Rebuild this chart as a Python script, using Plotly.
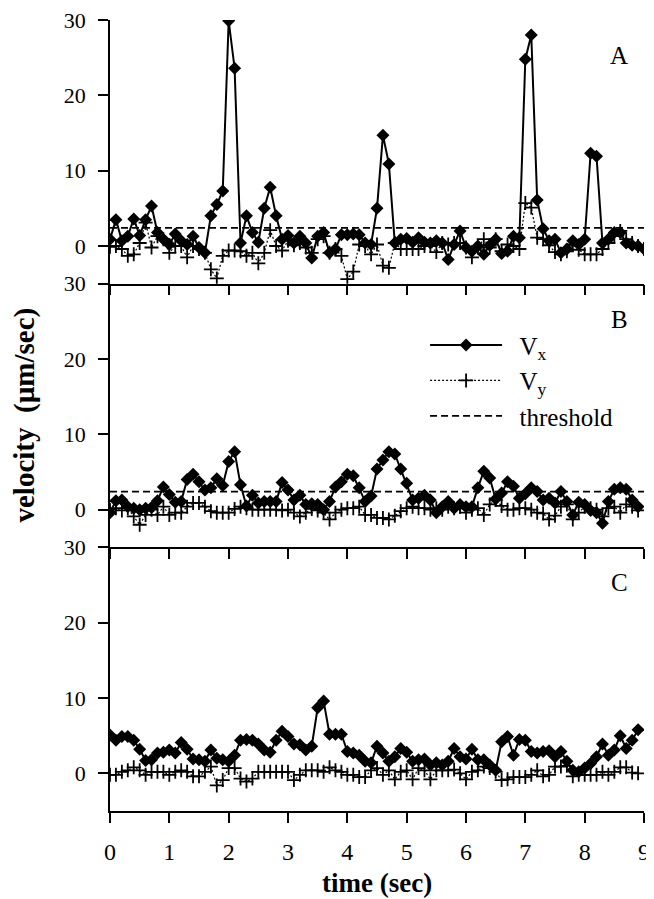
import plotly.graph_objects as go
from plotly.subplots import make_subplots

TIME = [0.0, 0.1, 0.2, 0.3, 0.4, 0.5, 0.6, 0.7, 0.8, 0.9,
        1.0, 1.1, 1.2, 1.3, 1.4, 1.5, 1.6, 1.7, 1.8, 1.9,
        2.0, 2.1, 2.2, 2.3, 2.4, 2.5, 2.6, 2.7, 2.8, 2.9,
        3.0, 3.1, 3.2, 3.3, 3.4, 3.5, 3.6, 3.7, 3.8, 3.9,
        4.0, 4.1, 4.2, 4.3, 4.4, 4.5, 4.6, 4.7, 4.8, 4.9,
        5.0, 5.1, 5.2, 5.3, 5.4, 5.5, 5.6, 5.7, 5.8, 5.9,
        6.0, 6.1, 6.2, 6.3, 6.4, 6.5, 6.6, 6.7, 6.8, 6.9,
        7.0, 7.1, 7.2, 7.3, 7.4, 7.5, 7.6, 7.7, 7.8, 7.9,
        8.0, 8.1, 8.2, 8.3, 8.4, 8.5, 8.6, 8.7, 8.8, 8.9,
        9.0]

A_VX = [0.9, 3.5, 0.7, 1.3, 3.6, 1.4, 3.5, 5.3, 1.8, 0.9,
        0.2, 1.6, 0.7, 0.2, 1.3, -0.2, -0.9, 4.0, 5.5, 7.3,
        29.9, 23.6, 0.4, 4.0, 1.8, 0.5, 5.0, 7.8, 4.0, 0.9,
        1.4, 0.4, 1.3, 0.4, -1.6, 1.3, 1.8, -0.9, -0.4, 1.5,
        1.5, 1.6, 1.5, 0.4, 0.2, 5.0, 14.7, 10.9, 0.4, 0.9,
        1.0, 0.5, 1.1, 0.5, 0.4, 0.7, 0.4, -1.8, 0.2, 2.0,
        -0.2, -0.7, 0.0, -1.1, 0.1, 0.9, -1.0, -0.7, 1.3, 1.1,
        24.8, 28.0, 6.1, 2.3, 0.7, 0.9, -0.9, -0.4, 0.7, 0.2,
        0.9, 12.3, 11.9, 0.4, 0.9, 1.8, 1.8, 0.4, 0.1, 0.0,
        -0.4]
A_VY = [-0.1, 0.0, -0.4, -1.3, -1.1, 0.4, 3.1, -0.2, 1.3, 0.9,
        -0.9, 0.0, 0.0, -1.5, 0.0, -0.4, -0.9, -3.1, -4.3, -1.3,
        -0.6, -0.6, -0.7, -1.3, -0.9, -2.3, -0.9, 2.1, 0.0, -0.6,
        0.7, 0.1, 0.4, -0.2, -0.9, 0.9, 1.3, -0.9, -0.4, -1.3,
        -4.4, -3.4, 0.2, 0.0, -1.1, 0.2, -2.6, -2.9, 0.4, -0.4,
        -0.4, -0.4, -0.4, 0.0, 0.0, -0.8, 0.4, 0.2, 0.4, 0.4,
        -0.2, -1.5, -0.2, 0.9, -0.2, 0.9, -0.7, 0.2, 0.0, -0.4,
        5.7, 5.1, 1.1, 0.9, 0.1, -0.8, -1.1, -0.7, 0.2, -0.5,
        -1.1, -1.1, -1.1, -0.4, 0.4, 1.3, 2.0, 0.9, 0.4, 0.0,
        -0.4]

B_VX = [-0.4, 1.2, 1.3, 0.4, 0.2, 0.0, 0.2, 0.3, 1.2, 3.0,
        2.0, 1.0, 1.1, 4.0, 4.7, 3.7, 2.6, 2.9, 4.1, 3.2,
        6.4, 7.7, 3.3, 0.5, 1.9, 0.9, 1.1, 1.1, 1.1, 3.6,
        2.6, 1.3, 1.9, 0.7, 0.8, 0.7, 0.0, 1.1, 3.0, 3.7,
        4.7, 4.5, 2.9, 1.1, 1.8, 5.4, 6.6, 7.7, 7.4, 5.4,
        3.5, 1.3, 1.5, 1.9, 1.3, -0.4, 0.4, 1.1, 0.2, 0.7,
        0.4, 0.4, 2.9, 5.1, 4.2, 1.4, 2.2, 3.7, 3.1, 1.5,
        2.1, 2.9, 2.4, 1.3, 1.5, 0.9, 2.4, 1.1, -0.7, 1.0,
        0.7, -0.1, -0.4, -1.8, 1.1, 2.7, 2.9, 2.7, 1.3, 0.4]
B_VY = [0.0, 0.2, -0.1, 0.2, -0.9, -2.0, -0.7, 0.0, -0.7, 0.4,
        -0.7, -0.4, -0.4, 0.4, 0.9, 0.9, 0.4, -0.2, -0.4, -0.4,
        -0.4, 0.1, 0.4, 0.2, 0.0, 0.0, 0.0, 0.0, 0.0, -0.1,
        0.0, -0.4, -0.9, -0.4, 0.1, -0.1, -0.4, -1.3, -0.4, 0.0,
        0.2, 0.2, 0.4, -0.7, -0.7, -1.1, -1.1, -1.3, -0.8, -0.2,
        0.2, 0.4, 0.2, 0.2, 0.0, 0.2, 0.0, 0.4, 0.2, 0.4,
        -0.4, 0.0, 0.2, -0.7, 0.7, 1.3, 0.5, 0.0, 0.0, 0.2,
        0.2, 0.0, -0.4, -0.5, -1.3, -0.8, 0.4, 0.7, -1.3, -0.4,
        0.4, 0.2, 0.0, -0.9, 0.2, 0.4, -0.4, 0.7, 0.4, -0.1]

C_VX = [5.1, 4.4, 4.9, 4.9, 4.4, 3.2, 1.7, 1.8, 2.7, 2.8,
        3.1, 2.7, 4.1, 3.2, 1.9, 1.8, 1.6, 3.1, 2.0, 1.8,
        1.6, 2.4, 4.4, 4.5, 4.4, 3.9, 3.1, 2.8, 4.4, 5.6,
        4.9, 3.9, 3.8, 3.1, 3.6, 8.7, 9.6, 5.2, 5.2, 5.2,
        2.9, 2.7, 2.4, 1.6, 1.4, 3.6, 2.7, 1.6, 2.2, 3.3,
        2.8, 1.6, 1.8, 1.9, 1.1, 1.4, 1.1, 1.6, 3.3, 2.2,
        1.9, 3.2, 1.8, 1.8, 1.1, 0.4, 4.2, 4.9, 2.4, 4.5,
        4.4, 2.9, 2.7, 2.9, 3.0, 2.2, 2.9, 1.6, 0.4, 0.2,
        0.7, 1.3, 2.2, 3.9, 2.4, 3.1, 5.0, 3.3, 4.4, 5.8]
C_VY = [-0.2, -0.2, 0.2, 0.4, 0.8, 0.4, -0.2, 0.2, 0.2, 0.2,
        -0.2, 0.2, 0.4, 0.2, -0.4, -0.4, 0.2, 0.9, -1.6, -0.9,
        0.7, 0.7, -0.7, -1.1, -0.7, 0.2, 0.2, 0.2, 0.2, 0.2,
        0.2, -0.9, -0.2, 0.4, 0.4, 0.4, 0.2, 0.8, 0.4, 0.2,
        -0.2, -0.2, -0.5, -0.5, 0.4, 0.7, -0.2, 0.4, -0.8, 0.2,
        0.4, -0.8, 0.7, 0.4, -0.8, 0.4, 0.4, 0.4, 0.5, 0.0,
        -0.8, 0.2, 0.4, 0.9, 0.7, 0.2, -0.9, -0.8, -0.5, -0.5,
        -0.5, -0.2, 0.4, -0.4, -0.2, 0.9, 0.9, 1.0, -0.4, -0.2,
        -0.2, -0.2, -0.2, 0.2, -0.2, 0.2, 0.8, 0.8, 0.1, 0.0]

THRESHOLD = 2.4
THRESHOLD_SPAN = [0.0, 9.0]
PANELS = ["A", "B", "C"]
Y_TICKS = [0, 10, 20, 30]
X_TICKS = [0, 1, 2, 3, 4, 5, 6, 7, 8, 9]

SERIF = "Liberation Serif"
GAP = "\u00a0\u00a0"

fig = make_subplots(rows=3, cols=1, shared_xaxes=True, vertical_spacing=0)

panel_data = [(A_VX, A_VY, True), (B_VX, B_VY, True), (C_VX, C_VY, False)]
for i, (vx, vy, has_thr) in enumerate(panel_data):
    row = i + 1
    legend_here = (i == 1)
    fig.add_trace(go.Scatter(
        x=TIME[:len(vx)], y=vx, mode="lines+markers", name=GAP + "V<sub>x</sub>",
        line=dict(color="black", width=2),
        marker=dict(symbol="diamond", size=10, color="black"),
        showlegend=legend_here), row=row, col=1)
    fig.add_trace(go.Scatter(
        x=TIME[:len(vy)], y=vy, mode="lines+markers", name=GAP + "V<sub>y</sub>",
        line=dict(color="black", width=1.2, dash="2px,2px"),
        marker=dict(symbol="cross-thin", size=10, color="black",
                    line=dict(color="black", width=1.8)),
        showlegend=legend_here), row=row, col=1)
    if has_thr:
        fig.add_trace(go.Scatter(
            x=THRESHOLD_SPAN, y=[THRESHOLD, THRESHOLD], mode="lines",
            name=GAP + "threshold",
            line=dict(color="black", width=1.8, dash="7px,4px"),
            showlegend=legend_here), row=row, col=1)
    sfx = str(row) if row > 1 else ""
    fig.add_annotation(x=8.58, y=25.3, xref="x" + sfx, yref="y" + sfx, text=PANELS[i],
                       showarrow=False, font=dict(family=SERIF, size=25, color="black"))

for row in (1, 2, 3):
    fig.update_yaxes(range=[-5, 30], tickvals=Y_TICKS, showline=True,
                     linecolor="black", linewidth=1.5, ticks="outside",
                     ticklen=10, tickwidth=1.5, tickcolor="black",
                     ticklabelstandoff=8, automargin=False,
                     ticklabeloverflow="allow",
                     showgrid=False, zeroline=False,
                     tickfont=dict(family=SERIF, size=22, color="black"),
                     row=row, col=1)
    fig.update_xaxes(range=[0, 9], tickvals=X_TICKS, showline=True,
                     linecolor="black", linewidth=1.5, ticks="outside",
                     ticklen=10, tickwidth=1.5, tickcolor="black",
                     ticklabelstandoff=8, automargin=False,
                     ticklabeloverflow="allow",
                     showgrid=False, zeroline=False,
                     tickfont=dict(family=SERIF, size=24, color="black"),
                     row=row, col=1)

fig.add_annotation(x=0.5, y=-0.091, xref="paper", yref="paper",
                   xanchor="center", yanchor="middle",
                   text="<b>time (sec)</b>", showarrow=False,
                   font=dict(family=SERIF, size=27, color="black"))

fig.add_annotation(x=-0.161, y=0.5, xref="paper", yref="paper",
                   xanchor="center", yanchor="middle",
                   text="<b>velocity  (µm/sec)</b>", textangle=-90,
                   showarrow=False,
                   font=dict(family=SERIF, size=29, color="black"))

fig.update_layout(
    width=646, height=891,
    margin=dict(l=102, r=10, t=12, b=88, autoexpand=False),
    paper_bgcolor="white", plot_bgcolor="white",
    showlegend=True,
    legend=dict(x=0.59, y=0.618, xanchor="left", yanchor="top",
                bgcolor="rgba(0,0,0,0)", itemwidth=72,
                font=dict(family=SERIF, size=25, color="black"),
                traceorder="normal"),
)

fig.write_html("out.html")
